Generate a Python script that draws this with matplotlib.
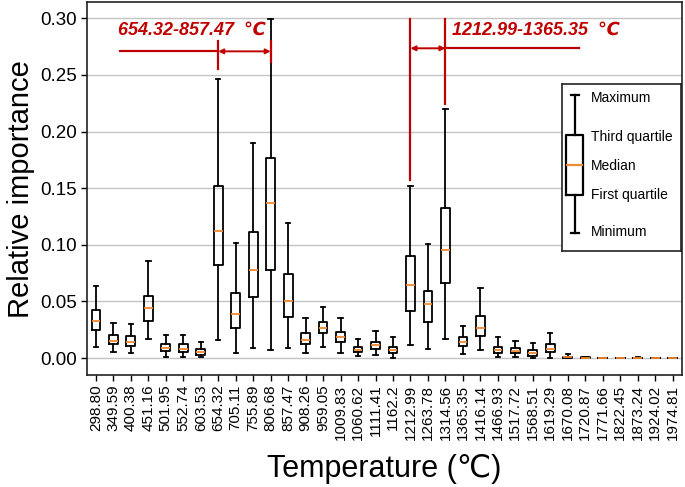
"""Box plot of relative importance per temperature band."""

import matplotlib
matplotlib.use("Agg")
import matplotlib.pyplot as plt

plt.rcParams["font.family"] = ["Liberation Sans", "DejaVu Sans"]

temps = ["298.80", "349.59", "400.38", "451.16", "501.95", "552.74", "603.53",
         "654.32", "705.11", "755.89", "806.68", "857.47", "908.26", "959.05",
         "1009.83", "1060.62", "1111.41", "1162.2", "1212.99", "1263.78",
         "1314.56", "1365.35", "1416.14", "1466.93", "1517.72", "1568.51",
         "1619.29", "1670.08", "1720.87", "1771.66", "1822.45", "1873.24",
         "1924.02", "1974.81"]

whishi = [0.064, 0.031, 0.030, 0.0855, 0.020, 0.020, 0.014, 0.246, 0.1015, 0.190,
          0.299, 0.119, 0.035, 0.0448, 0.035, 0.0168, 0.024, 0.0183, 0.1516, 0.1003,
          0.2195, 0.0283, 0.0617, 0.0183, 0.015, 0.013, 0.0218, 0.0035, 0.0012,
          0.0003, 0.0003, 0.001, 0.0003, 0.0003]
q3 = [0.042, 0.020, 0.019, 0.0546, 0.012, 0.012, 0.008, 0.1516, 0.0575, 0.111,
      0.177, 0.074, 0.0218, 0.0319, 0.023, 0.010, 0.0139, 0.0094, 0.090, 0.0596,
      0.1325, 0.0183, 0.0369, 0.010, 0.0086, 0.0071, 0.0124, 0.0012, 0.0006,
      0.0002, 0.0002, 0.0004, 0.0002, 0.0002]
med = [0.033, 0.015, 0.014, 0.044, 0.0088, 0.0077, 0.0053, 0.1118, 0.0387, 0.0776,
       0.1366, 0.0507, 0.0162, 0.0268, 0.0183, 0.0073, 0.0115, 0.0068, 0.0643, 0.0478,
       0.095, 0.0142, 0.0268, 0.0071, 0.0065, 0.0047, 0.0082, 0.0005, 0.0003,
       0.0001, 0.0001, 0.0002, 0.0001, 0.0001]
q1 = [0.0248, 0.0124, 0.011, 0.0327, 0.006, 0.0053, 0.003, 0.082, 0.0268, 0.0537,
      0.0776, 0.036, 0.012, 0.0218, 0.0139, 0.0053, 0.0082, 0.0044, 0.0416, 0.0316,
      0.066, 0.0109, 0.0192, 0.0044, 0.0044, 0.002, 0.0053, 0.0001, 0.0001,
      0.0, 0.0, 0.0001, 0.0, 0.0]
whislo = [0.010, 0.005, 0.004, 0.0168, 0.001, 0.001, 0.001, 0.016, 0.004, 0.009,
          0.0068, 0.009, 0.004, 0.010, 0.004, 0.002, 0.0024, 0.0, 0.0112, 0.008,
          0.0168, 0.0033, 0.0068, 0.0012, 0.0012, 0.0003, 0.0003, 0.0, 0.0,
          0.0, 0.0, 0.0, 0.0, 0.0]

# highlighted temperature ranges: (label, first box, second box)
ranges = [("654.32-857.47  \u2103", 8, 11), ("1212.99-1365.35  \u2103", 19, 21)]

RED = "#c00000"
ORANGE = "#f08a30"
LW = 1.3

stats = [dict(whislo=a, q1=b, med=c, q3=d, whishi=e, fliers=[])
         for a, b, c, d, e in zip(whislo, q1, med, q3, whishi)]
positions = list(range(1, len(temps) + 1))

fig = plt.figure(figsize=(6.85, 4.87), dpi=100)
ax = fig.add_axes([0.127, 0.230, 0.869, 0.765])

line = dict(color="black", linewidth=LW)
ax.bxp(stats, positions=positions, widths=0.5, showfliers=False,
       boxprops=line, whiskerprops=line, capprops=line,
       medianprops=dict(color=ORANGE, linewidth=LW))

ax.set_xlim(0.49, 34.55)
ax.set_ylim(-0.015, 0.314)
ax.set_yticks([0.0, 0.05, 0.10, 0.15, 0.20, 0.25, 0.30])
ax.set_yticklabels([f"{v:.2f}" for v in ax.get_yticks()], fontsize=13.5)
ax.set_xticks(positions)
ax.set_xticklabels(temps, rotation=90, fontsize=11)
ax.yaxis.grid(True, color="#c4c4c4", linewidth=1.0)
ax.set_axisbelow(True)
ax.tick_params(axis="both", direction="out", length=4, width=1.0, pad=3)
for sp in ax.spines.values():
    sp.set_linewidth(1.2)
    sp.set_color("#222222")

ax.set_ylabel("Relative importance", fontsize=21, labelpad=4)
ax.set_xlabel("Temperature (\u2103)", fontsize=22, labelpad=10)

# left range annotation
lab, a, b = ranges[0]
ax.text(2.25, 0.289, lab, color=RED, fontsize=13, fontweight="bold",
        fontstyle="italic", va="center", ha="left")
ax.plot([2.37, a], [0.2708, 0.2708], color=RED, linewidth=1.6)
ax.plot([a, a], [0.2549, 0.2796], color=RED, linewidth=1.6)
ax.plot([b, b], [0.2610, 0.2796], color=RED, linewidth=1.6)
ax.annotate("", xy=(b, 0.2708), xytext=(a, 0.2708),
            arrowprops=dict(arrowstyle="<|-|>", color=RED, lw=1.4,
                            mutation_scale=7, shrinkA=0, shrinkB=0))

# right range annotation
lab, a, b = ranges[1]
ax.text(21.4, 0.289, lab, color=RED, fontsize=13, fontweight="bold",
        fontstyle="italic", va="center", ha="left")
ax.plot([a, a], [0.1575, 0.299], color=RED, linewidth=1.6)
ax.plot([b, b], [0.2239, 0.299], color=RED, linewidth=1.6)
ax.plot([b, 28.66], [0.2735, 0.2735], color=RED, linewidth=1.6)
ax.annotate("", xy=(a, 0.2735), xytext=(b, 0.2735),
            arrowprops=dict(arrowstyle="<|-|>", color=RED, lw=1.4,
                            mutation_scale=7, shrinkA=0, shrinkB=0))

# hand-made legend explaining the box glyph
lg = fig.add_axes([0.8204, 0.4846, 0.1737, 0.3429])
lg.set_xlim(0, 1)
lg.set_ylim(0, 1)
lg.set_xticks([])
lg.set_yticks([])
for sp in lg.spines.values():
    sp.set_linewidth(1.2)
    sp.set_color("#222222")
lg.bxp([dict(whislo=0.110, q1=0.335, med=0.515, q3=0.695, whishi=0.934, fliers=[])],
       positions=[0.109], widths=0.143, showfliers=False, manage_ticks=False,
       boxprops=dict(color="black", linewidth=1.6),
       whiskerprops=dict(color="black", linewidth=1.6),
       capprops=dict(color="black", linewidth=1.6),
       medianprops=dict(color=ORANGE, linewidth=1.6))
legend_labels = ["Maximum", "Third quartile", "Median", "First quartile", "Minimum"]
legend_y = [0.918, 0.681, 0.511, 0.335, 0.116]
for t, y in zip(legend_labels, legend_y):
    lg.text(0.244, y, t, fontsize=10, va="center", ha="left")

fig.savefig("out.png", dpi=100)
